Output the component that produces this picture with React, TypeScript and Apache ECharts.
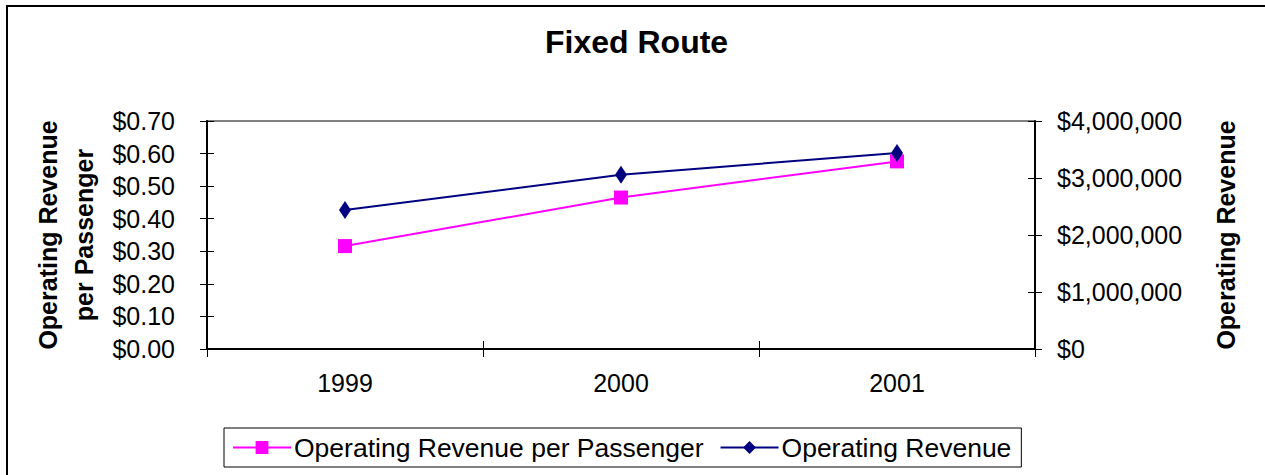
import React, { useEffect, useRef } from "react";
import * as echarts from "echarts";

const titleText = "Fixed Route";
const years = ["1999", "2000", "2001"];
const revenuePerPassenger = [0.316, 0.465, 0.576];
const operatingRevenue = [2440000, 3057000, 3440000];
const leftAxisName = "Operating Revenue\nper Passenger";
const rightAxisName = "Operating Revenue";
const seriesNames = ["Operating Revenue per Passenger", "Operating Revenue"];

const FONT = "'Liberation Sans', Arial, sans-serif";

export default function App() {
  const ref = useRef<HTMLDivElement>(null);
  useEffect(() => {
    if (!ref.current) return;
    const chart = echarts.init(ref.current, undefined, { renderer: "svg" });
    const axisLine = { show: true, lineStyle: { color: "#000", width: 2 } };
    const tickStyle = { color: "#000", width: 1 };
    const leftFmt = (v: number) => "$" + v.toFixed(2);
    const rightFmt = (v: number) => "$" + Math.round(v).toLocaleString("en-US");
    chart.setOption({
      animation: false,
      backgroundColor: "#fff",
      textStyle: { fontFamily: FONT },
      title: {
        text: titleText,
        left: 540,
        top: 21,
        textStyle: { fontFamily: FONT, fontSize: 32, fontWeight: "bold", color: "#000" },
      },
      graphic: [
        {
          type: "rect",
          shape: { x: 7, y: 6, width: 1400, height: 600 },
          style: { fill: "none", stroke: "#000", lineWidth: 2 },
          silent: true,
        },
      ],
      grid: {
        left: 207,
        right: 230,
        top: 121,
        bottom: 126,
        show: true,
        borderColor: "#808080",
        borderWidth: 2,
        backgroundColor: "transparent",
      },
      legend: {
        left: 224,
        top: 428,
        orient: "horizontal",
        borderColor: "#000",
        borderWidth: 1,
        padding: [6, 10, 6, 8],
        itemWidth: 58,
        itemHeight: 16,
        itemGap: 16,
        textStyle: { fontFamily: FONT, fontSize: 26.5, color: "#000", padding: [0, 0, 0, -2] },
        data: seriesNames,
      },
      xAxis: [
        {
          type: "category",
          data: years,
          position: "bottom",
          boundaryGap: true,
          axisLine,
          axisTick: { show: true, length: 8, lineStyle: tickStyle },
          axisLabel: { fontFamily: FONT, fontSize: 25, color: "#000", margin: 21 },
          splitLine: { show: false },
        },
        {
          type: "category",
          data: years,
          position: "bottom",
          boundaryGap: true,
          axisLine: { show: false },
          axisTick: { show: true, inside: true, length: 8, lineStyle: tickStyle },
          axisLabel: { show: false },
          splitLine: { show: false },
        },
      ],
      yAxis: [
        {
          type: "value",
          position: "left",
          min: 0,
          max: 0.7,
          interval: 0.1,
          name: leftAxisName,
          nameLocation: "middle",
          nameRotate: 90,
          nameGap: 104,
          nameTextStyle: { fontFamily: FONT, fontSize: 25, fontWeight: "bold", color: "#000", lineHeight: 36 },
          axisLine,
          axisTick: { show: true, length: 7, lineStyle: tickStyle },
          axisLabel: { fontFamily: FONT, fontSize: 25, color: "#000", margin: 32, formatter: leftFmt },
          splitLine: { show: false },
        },
        {
          type: "value",
          position: "right",
          min: 0,
          max: 4000000,
          interval: 1000000,
          name: rightAxisName,
          nameLocation: "middle",
          nameRotate: 90,
          nameGap: 178,
          nameTextStyle: { fontFamily: FONT, fontSize: 25, fontWeight: "bold", color: "#000" },
          axisLine,
          axisTick: { show: true, length: 7, lineStyle: tickStyle },
          axisLabel: { fontFamily: FONT, fontSize: 25, color: "#000", margin: 22, formatter: rightFmt },
          splitLine: { show: false },
        },
        {
          type: "value",
          position: "left",
          min: 0,
          max: 0.7,
          interval: 0.1,
          axisLine: { show: false },
          axisTick: { show: true, inside: true, length: 7, lineStyle: tickStyle },
          axisLabel: { show: false },
          splitLine: { show: false },
        },
        {
          type: "value",
          position: "right",
          min: 0,
          max: 4000000,
          interval: 1000000,
          axisLine: { show: false },
          axisTick: { show: true, inside: true, length: 7, lineStyle: tickStyle },
          axisLabel: { show: false },
          splitLine: { show: false },
        },
      ],
      series: [
        {
          name: seriesNames[0],
          type: "line",
          xAxisIndex: 0,
          yAxisIndex: 0,
          data: revenuePerPassenger,
          color: "#FF00FF",
          lineStyle: { color: "#FF00FF", width: 2 },
          itemStyle: { color: "#FF00FF" },
          symbol: "rect",
          symbolSize: 14,
        },
        {
          name: seriesNames[1],
          type: "line",
          xAxisIndex: 0,
          yAxisIndex: 1,
          data: operatingRevenue,
          color: "#000080",
          lineStyle: { color: "#000080", width: 2 },
          itemStyle: { color: "#000080" },
          symbol: "diamond",
          symbolSize: [12, 18],
        },
      ],
    });
    return () => chart.dispose();
  }, []);
  return (
    <div
      ref={ref}
      style={{ position: "absolute", left: 0, top: 0, width: 1265, height: 475 }}
    />
  );
}
